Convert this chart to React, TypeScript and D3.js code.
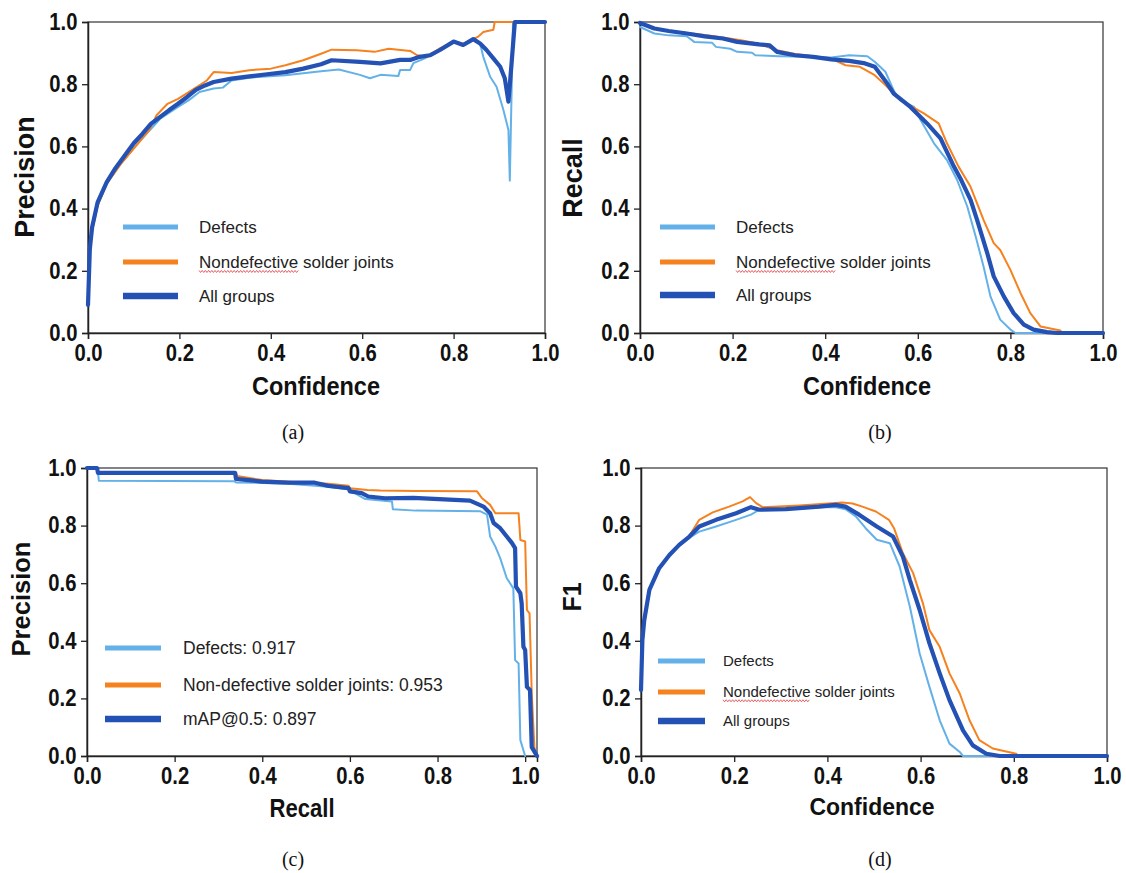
import React, { useRef, useEffect } from 'react';
import * as d3 from 'd3';

type Pt = [number, number];

const tickValues = [0, 0.2, 0.4, 0.6, 0.8, 1.0];

// (a) precision vs confidence
const aDefects: Pt[] = [[0,0.09],[0.004,0.26],[0.009,0.33],[0.021,0.41],[0.041,0.48],[0.072,0.545],[0.103,0.6],[0.134,0.65],[0.158,0.689],[0.197,0.727],[0.22,0.748],[0.244,0.775],[0.275,0.786],[0.295,0.789],[0.314,0.812],[0.353,0.821],[0.432,0.829],[0.51,0.842],[0.549,0.847],[0.595,0.83],[0.617,0.819],[0.64,0.83],[0.679,0.826],[0.683,0.846],[0.705,0.846],[0.712,0.868],[0.737,0.883],[0.748,0.893],[0.77,0.91],[0.8,0.937],[0.821,0.926],[0.843,0.945],[0.858,0.931],[0.865,0.888],[0.88,0.824],[0.894,0.792],[0.909,0.717],[0.92,0.653],[0.923,0.49],[0.93,1.0],[1.0,1.0]];
const aNondefective: Pt[] = [[0,0.09],[0.004,0.26],[0.009,0.33],[0.021,0.41],[0.041,0.48],[0.072,0.544],[0.103,0.598],[0.134,0.652],[0.15,0.7],[0.174,0.737],[0.197,0.753],[0.236,0.789],[0.26,0.812],[0.275,0.839],[0.314,0.836],[0.353,0.845],[0.4,0.85],[0.432,0.861],[0.471,0.877],[0.51,0.898],[0.533,0.911],[0.588,0.909],[0.627,0.904],[0.658,0.914],[0.705,0.907],[0.72,0.893],[0.742,0.888],[0.77,0.915],[0.8,0.937],[0.821,0.93],[0.843,0.945],[0.854,0.953],[0.865,0.968],[0.887,0.975],[0.89,1.0],[1.0,1.0]];
const aAll: Pt[] = [[0,0.09],[0.004,0.27],[0.009,0.34],[0.021,0.42],[0.041,0.485],[0.06,0.53],[0.08,0.57],[0.1,0.61],[0.119,0.64],[0.138,0.673],[0.158,0.695],[0.177,0.716],[0.197,0.737],[0.217,0.759],[0.236,0.782],[0.256,0.796],[0.275,0.807],[0.314,0.818],[0.353,0.825],[0.392,0.832],[0.432,0.839],[0.471,0.85],[0.51,0.864],[0.533,0.877],[0.595,0.872],[0.64,0.867],[0.683,0.878],[0.705,0.878],[0.726,0.888],[0.748,0.893],[0.77,0.91],[0.8,0.937],[0.821,0.926],[0.843,0.945],[0.858,0.931],[0.872,0.91],[0.887,0.883],[0.902,0.856],[0.912,0.819],[0.92,0.744],[0.927,0.87],[0.934,1.0],[1.0,1.0]];

// (b) recall vs confidence
const bDefects: Pt[] = [[0,0.984],[0.031,0.963],[0.062,0.957],[0.101,0.954],[0.117,0.936],[0.156,0.933],[0.164,0.92],[0.195,0.914],[0.21,0.904],[0.242,0.901],[0.249,0.893],[0.3,0.89],[0.374,0.888],[0.413,0.886],[0.452,0.893],[0.491,0.89],[0.507,0.872],[0.53,0.84],[0.548,0.78],[0.561,0.749],[0.592,0.727],[0.606,0.685],[0.635,0.61],[0.663,0.556],[0.685,0.492],[0.707,0.406],[0.725,0.31],[0.742,0.214],[0.757,0.117],[0.778,0.043],[0.8,0.011],[0.811,0],[1.0,0]];
const bNondefective: Pt[] = [[0,0.995],[0.031,0.979],[0.062,0.972],[0.101,0.965],[0.14,0.958],[0.179,0.95],[0.218,0.941],[0.257,0.93],[0.296,0.909],[0.335,0.897],[0.374,0.89],[0.413,0.882],[0.444,0.861],[0.475,0.856],[0.507,0.829],[0.53,0.797],[0.562,0.749],[0.613,0.706],[0.645,0.674],[0.663,0.61],[0.688,0.535],[0.714,0.47],[0.742,0.364],[0.764,0.289],[0.778,0.267],[0.8,0.203],[0.822,0.128],[0.843,0.064],[0.865,0.021],[0.908,0.008],[0.912,0],[1.0,0]];
const bAll: Pt[] = [[0,0.997],[0.031,0.979],[0.062,0.971],[0.101,0.963],[0.14,0.954],[0.179,0.947],[0.21,0.936],[0.257,0.928],[0.28,0.925],[0.296,0.904],[0.335,0.893],[0.374,0.888],[0.413,0.88],[0.452,0.875],[0.483,0.868],[0.507,0.856],[0.534,0.802],[0.548,0.77],[0.584,0.727],[0.62,0.674],[0.649,0.626],[0.678,0.535],[0.692,0.497],[0.714,0.428],[0.728,0.364],[0.75,0.257],[0.764,0.182],[0.786,0.117],[0.807,0.064],[0.829,0.027],[0.85,0.011],[0.879,0.003],[0.9,0],[1.0,0]];

// (c) precision vs recall
const cDefects: Pt[] = [[0,1],[0.024,1],[0.027,0.956],[0.336,0.954],[0.34,0.95],[0.4,0.948],[0.46,0.945],[0.551,0.935],[0.6,0.925],[0.62,0.905],[0.635,0.892],[0.696,0.884],[0.698,0.857],[0.75,0.852],[0.897,0.85],[0.913,0.838],[0.92,0.762],[0.932,0.727],[0.943,0.687],[0.958,0.617],[0.973,0.582],[0.977,0.333],[0.985,0.321],[0.989,0.055],[1.0,0]];
const cNondefective: Pt[] = [[0,1],[0.023,1],[0.025,0.983],[0.34,0.983],[0.343,0.972],[0.36,0.968],[0.4,0.958],[0.46,0.952],[0.551,0.945],[0.597,0.938],[0.6,0.93],[0.64,0.924],[0.669,0.922],[0.75,0.92],[0.89,0.919],[0.901,0.896],[0.92,0.872],[0.932,0.843],[0.985,0.843],[0.989,0.75],[1.0,0.745],[1.004,0.507],[1.01,0.495],[1.015,0.217],[1.021,0.031],[1.025,0]];
const cAll: Pt[] = [[0,1],[0.023,1],[0.025,0.983],[0.338,0.983],[0.34,0.962],[0.399,0.953],[0.46,0.949],[0.52,0.949],[0.551,0.938],[0.597,0.93],[0.6,0.919],[0.627,0.913],[0.642,0.901],[0.68,0.895],[0.745,0.896],[0.874,0.887],[0.905,0.866],[0.92,0.843],[0.928,0.809],[0.943,0.791],[0.958,0.762],[0.97,0.739],[0.977,0.722],[0.979,0.588],[0.989,0.565],[0.992,0.53],[0.996,0.379],[1.0,0.368],[1.004,0.24],[1.011,0.229],[1.015,0.031],[1.027,0]];

// (d) F1 vs confidence
const dDefects: Pt[] = [[0,0.229],[0.003,0.4],[0.007,0.47],[0.018,0.575],[0.039,0.65],[0.061,0.696],[0.082,0.73],[0.104,0.758],[0.125,0.779],[0.161,0.797],[0.204,0.82],[0.236,0.838],[0.254,0.855],[0.311,0.857],[0.382,0.864],[0.418,0.864],[0.439,0.857],[0.461,0.832],[0.482,0.791],[0.506,0.751],[0.534,0.739],[0.555,0.658],[0.577,0.518],[0.598,0.356],[0.619,0.24],[0.641,0.124],[0.662,0.043],[0.684,0.014],[0.691,0],[1.0,0]];
const dNondefective: Pt[] = [[0,0.229],[0.003,0.403],[0.007,0.472],[0.018,0.577],[0.039,0.652],[0.061,0.698],[0.082,0.733],[0.104,0.765],[0.125,0.82],[0.154,0.846],[0.189,0.866],[0.218,0.884],[0.234,0.899],[0.247,0.878],[0.261,0.864],[0.34,0.87],[0.432,0.88],[0.454,0.877],[0.475,0.866],[0.504,0.849],[0.532,0.82],[0.543,0.791],[0.562,0.704],[0.584,0.635],[0.605,0.53],[0.619,0.437],[0.641,0.379],[0.662,0.287],[0.684,0.217],[0.705,0.124],[0.726,0.055],[0.755,0.026],[0.805,0.008],[0.81,0],[1.0,0]];
const dAll: Pt[] = [[0,0.229],[0.003,0.403],[0.007,0.472],[0.018,0.577],[0.039,0.652],[0.061,0.698],[0.082,0.733],[0.104,0.762],[0.125,0.797],[0.161,0.82],[0.204,0.843],[0.236,0.864],[0.254,0.855],[0.311,0.857],[0.382,0.866],[0.418,0.872],[0.439,0.866],[0.468,0.838],[0.506,0.797],[0.541,0.762],[0.562,0.692],[0.577,0.611],[0.598,0.507],[0.619,0.391],[0.641,0.287],[0.662,0.194],[0.691,0.089],[0.712,0.037],[0.741,0.008],[0.77,0],[1.0,0]];

const legendGroups = ['Defects', 'Nondefective solder joints', 'All groups'];
const legendMap = ['Defects: 0.917', 'Non-defective solder joints: 0.953', 'mAP@0.5: 0.897'];

const colors = ['#63b1e8', '#f5821f', '#2451b4'];
const plotWidths = [2, 2, 4.2];
const legendWidths = [5, 5, 6.5];

const panels = [
  { series: [aDefects, aNondefective, aAll], legend: legendGroups, xLabel: 'Confidence', yLabel: 'Precision', caption: '(a)',
    left: 88, right: 545, top: 22, bottom: 333, xMax: 1,
    yt: { x: 34, y: 177, size: 27 }, xt: { x: 316, y: 395, size: 25, sx: 0.94 }, cap: { x: 293, y: 439 },
    lg: { x1: 123, x2: 178, tx: 199, ys: [227, 262, 296], size: 17, wave: true } },
  { series: [bDefects, bNondefective, bAll], legend: legendGroups, xLabel: 'Confidence', yLabel: 'Recall', caption: '(b)',
    left: 640, right: 1103, top: 22, bottom: 333, xMax: 1,
    yt: { x: 582, y: 178, size: 27 }, xt: { x: 867, y: 395, size: 25, sx: 0.94 }, cap: { x: 880, y: 439 },
    lg: { x1: 660, x2: 715, tx: 736, ys: [227, 262, 295], size: 17, wave: true } },
  { series: [cDefects, cNondefective, cAll], legend: legendMap, xLabel: 'Recall', yLabel: 'Precision', caption: '(c)',
    left: 87, right: 537, top: 468, bottom: 756, xMax: 1.027,
    yt: { x: 30, y: 599, size: 25.5 }, xt: { x: 302, y: 817, size: 26, sx: 0.85 }, cap: { x: 293, y: 866 },
    lg: { x1: 105, x2: 161, tx: 183, ys: [648, 685, 719], size: 17.5, wave: false } },
  { series: [dDefects, dNondefective, dAll], legend: legendGroups, xLabel: 'Confidence', yLabel: 'F1', caption: '(d)',
    left: 641, right: 1107, top: 468, bottom: 756, xMax: 1,
    yt: { x: 581, y: 597, size: 25 }, xt: { x: 872, y: 815, size: 23, sx: 1 }, cap: { x: 880, y: 866 },
    lg: { x1: 658, x2: 705, tx: 723, ys: [661, 692, 721], size: 15, wave: true } },
];

const sans = "'Liberation Sans', Arial, sans-serif";

const App = () => {
  const svgRef = useRef<SVGSVGElement>(null);

  useEffect(() => {
    const svg = d3.select(svgRef.current);
    svg.selectAll('*').remove();

    svg.append('rect').attr('width', 1126).attr('height', 873).attr('fill', '#fff');

    panels.forEach(p => {
      const x = d3.scaleLinear().domain([0, p.xMax]).range([p.left, p.right]);
      const y = d3.scaleLinear().domain([0, 1]).range([p.bottom, p.top]);
      const g = svg.append('g');

      // frame
      g.append('rect')
        .attr('x', p.left).attr('y', p.top)
        .attr('width', p.right - p.left).attr('height', p.bottom - p.top)
        .attr('fill', 'none').attr('stroke', '#333').attr('stroke-width', 1.2);

      const xAxis = d3.axisBottom(x).tickValues(tickValues).tickFormat(d3.format('.1f')).tickSizeOuter(0).tickSize(6).tickPadding(6);
      const yAxis = d3.axisLeft(y).tickValues(tickValues).tickFormat(d3.format('.1f')).tickSizeOuter(0).tickSize(6).tickPadding(6);

      [
        g.append('g').attr('transform', `translate(0,${p.bottom})`).call(xAxis),
        g.append('g').attr('transform', `translate(${p.left},0)`).call(yAxis),
      ].forEach(ax => {
        ax.select('.domain').attr('stroke', '#222').attr('stroke-width', 1.5);
        ax.selectAll('line').attr('stroke', '#222').attr('stroke-width', 1.3);
        ax.selectAll('text')
          .attr('fill', '#111')
          .attr('font-family', sans)
          .attr('font-weight', 'bold')
          .attr('font-size', 23)
          .attr('transform', 'scale(0.88,1)');
      });

      // curves: defects, nondefective, all groups on top
      const line = d3.line<Pt>().x(d => x(d[0])).y(d => y(d[1]));
      p.series.forEach((s, i) => {
        g.append('path')
          .datum(s)
          .attr('d', line)
          .attr('fill', 'none')
          .attr('stroke', colors[i])
          .attr('stroke-width', plotWidths[i])
          .attr('stroke-linejoin', 'round')
          .attr('stroke-linecap', 'round');
      });

      // legend
      p.legend.forEach((label, i) => {
        const ly = p.lg.ys[i];
        g.append('line')
          .attr('x1', p.lg.x1).attr('x2', p.lg.x2)
          .attr('y1', ly).attr('y2', ly)
          .attr('stroke', colors[i]).attr('stroke-width', legendWidths[i]);
        const t = g.append('text')
          .attr('x', p.lg.tx).attr('y', ly)
          .attr('dy', '0.35em')
          .attr('font-family', sans)
          .attr('font-size', p.lg.size)
          .attr('fill', '#222')
          .text(label);
        if (p.lg.wave && i === 1) {
          const node = t.node() as SVGTextElement;
          const w = node.getSubStringLength(0, 12);
          const base = ly + 0.35 * p.lg.size + 3.5;
          const pts: Pt[] = d3.range(0, Math.floor(w / 1.6) + 1).map(k => [p.lg.tx + k * 1.6, base + (k % 2 ? 1 : -1)]);
          g.append('path')
            .attr('d', d3.line()(pts))
            .attr('fill', 'none').attr('stroke', '#e0353b').attr('stroke-width', 0.8);
        }
      });

      // axis titles
      g.append('text')
        .attr('transform', `translate(${p.yt.x},${p.yt.y}) rotate(-90)`)
        .attr('text-anchor', 'middle')
        .attr('font-family', sans).attr('font-weight', 'bold')
        .attr('font-size', p.yt.size).attr('fill', '#111')
        .text(p.yLabel);
      g.append('g')
        .attr('transform', `translate(${p.xt.x},${p.xt.y}) scale(${p.xt.sx},1)`)
        .append('text')
        .attr('text-anchor', 'middle')
        .attr('font-family', sans).attr('font-weight', 'bold')
        .attr('font-size', p.xt.size).attr('fill', '#111')
        .text(p.xLabel);

      // caption
      g.append('text')
        .attr('x', p.cap.x).attr('y', p.cap.y)
        .attr('text-anchor', 'middle')
        .attr('font-family', "'Liberation Serif', 'Times New Roman', serif")
        .attr('font-size', 20).attr('fill', '#111')
        .text(p.caption);
    });
  }, []);

  return (
    <svg ref={svgRef} width={1126} height={873} style={{ position: 'absolute', left: 0, top: 0 }} />
  );
};

export default App;
